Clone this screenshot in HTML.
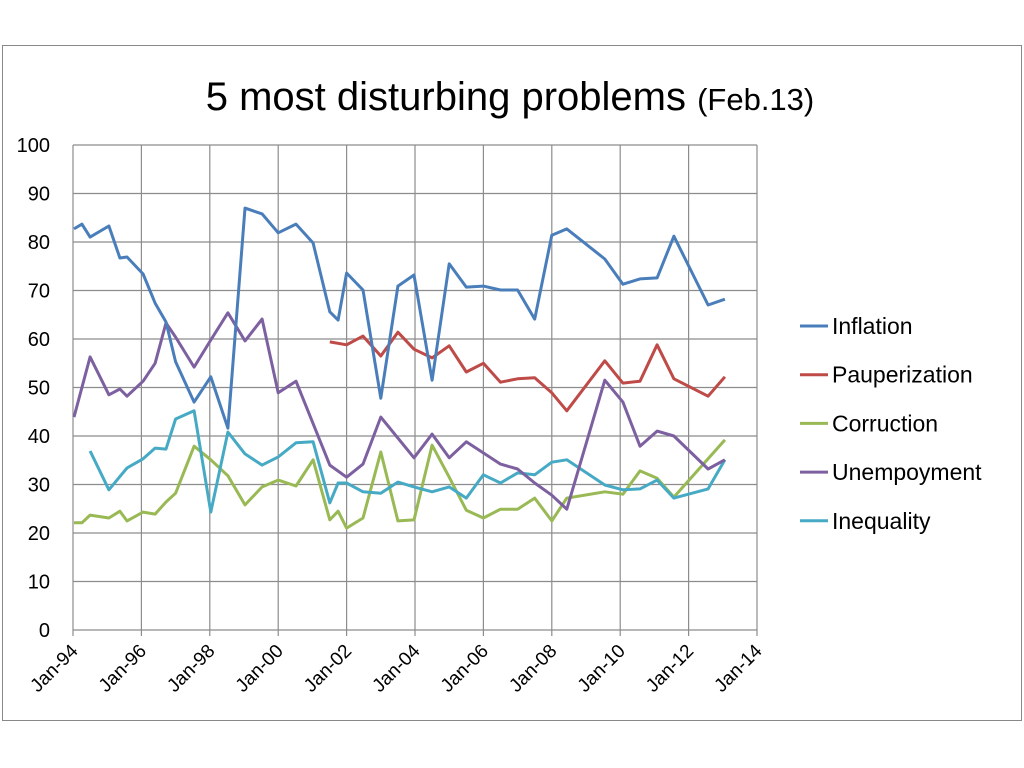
<!DOCTYPE html>
<html><head><meta charset="utf-8">
<style>
html,body{margin:0;padding:0;background:#fff;}
svg{display:block;font-family:"Liberation Sans",sans-serif;}
</style></head>
<body>
<svg id="chart" width="1024" height="768" viewBox="0 0 1024 768">
<rect x="2.5" y="45.5" width="1019" height="675" fill="#fff" stroke="#888" stroke-width="1"/>
<text x="510" y="110" text-anchor="middle" font-size="40" fill="#000">5 most disturbing problems <tspan font-size="31">(Feb.13)</tspan></text>
<g id="grid"></g><g id="axes"></g><g id="series"></g><g id="legend"></g>
</svg>
<script>
const yTicks=[0,10,20,30,40,50,60,70,80,90,100];
const xTickYears=[1994,1996,1998,2000,2002,2004,2006,2008,2010,2012,2014];
const xTickLabels=["Jan-94","Jan-96","Jan-98","Jan-00","Jan-02","Jan-04","Jan-06","Jan-08","Jan-10","Jan-12","Jan-14"];
const seriesNames=["Inflation","Pauperization","Corruction","Unempoyment","Inequality"];
const seriesColors=["#4a7ebb","#be4b48","#98b954","#7d60a0","#46aac5"];
const inflYears=[1994.03,1994.26,1994.5,1995.05,1995.37,1995.58,1996.05,1996.4,1996.72,1997.0,1997.54,1998.03,1998.53,1999.03,1999.53,2000.0,2000.52,2001.02,2001.51,2001.75,2002.0,2002.48,2003.0,2003.5,2003.97,2004.5,2005.0,2005.5,2006.0,2006.5,2007.0,2007.5,2008.0,2008.44,2009.55,2010.08,2010.58,2011.08,2011.57,2012.57,2013.06];
const inflValues=[82.7,83.7,81.0,83.3,76.7,76.9,73.4,67.4,63.5,55.3,47.0,52.2,41.6,87.0,85.8,81.9,83.7,79.8,65.6,63.9,73.6,70.1,47.8,70.9,73.2,51.5,75.5,70.7,70.9,70.1,70.1,64.1,81.4,82.7,76.5,71.3,72.4,72.6,81.2,67.0,68.2];
const paupYears=[2001.51,2002.0,2002.48,2003.0,2003.5,2003.97,2004.5,2005.0,2005.5,2006.0,2006.5,2007.0,2007.5,2008.0,2008.44,2009.55,2010.08,2010.58,2011.08,2011.57,2012.57,2013.06];
const paupValues=[59.4,58.8,60.6,56.5,61.4,57.9,56.1,58.6,53.2,55.0,51.1,51.8,52.0,48.9,45.2,55.5,50.9,51.3,58.8,51.8,48.2,52.2];
const corrYears=[1994.03,1994.26,1994.5,1995.05,1995.37,1995.58,1996.05,1996.4,1996.72,1997.0,1997.54,1998.03,1998.53,1999.03,1999.53,2000.0,2000.52,2001.02,2001.51,2001.75,2002.0,2002.48,2003.0,2003.5,2003.97,2004.5,2005.0,2005.5,2006.0,2006.5,2007.0,2007.5,2008.0,2008.44,2009.55,2010.08,2010.58,2011.08,2011.57,2013.06];
const corrValues=[22.1,22.1,23.7,23.1,24.5,22.5,24.3,23.9,26.4,28.2,37.9,35.1,31.8,25.8,29.5,30.9,29.7,35.1,22.7,24.5,21.0,23.1,36.7,22.5,22.7,38.1,31.5,24.7,23.1,24.9,24.9,27.2,22.5,27.2,28.5,28.0,32.8,31.3,27.4,39.2];
const unemYears=[1994.03,1994.5,1995.05,1995.37,1995.58,1996.05,1996.4,1996.72,1997.0,1997.54,1998.03,1998.53,1999.03,1999.53,2000.0,2000.52,2001.51,2002.0,2002.48,2003.0,2003.97,2004.5,2005.0,2005.5,2006.5,2007.0,2007.5,2008.0,2008.44,2009.55,2010.08,2010.58,2011.08,2011.57,2012.57,2013.06];
const unemValues=[43.9,56.3,48.5,49.7,48.2,51.3,55.0,63.3,60.4,54.2,59.8,65.4,59.6,64.1,48.9,51.3,34.0,31.5,34.2,43.9,35.5,40.4,35.5,38.8,34.2,33.2,30.3,27.8,24.9,51.5,47.0,37.9,41.0,40.0,33.2,35.1];
const ineqYears=[1994.5,1995.05,1995.58,1996.05,1996.4,1996.72,1997.0,1997.54,1998.03,1998.53,1999.03,1999.53,2000.0,2000.52,2001.02,2001.51,2001.75,2002.0,2002.48,2003.0,2003.5,2003.97,2004.5,2005.0,2005.5,2006.0,2006.5,2007.0,2007.5,2008.0,2008.44,2009.55,2010.08,2010.58,2011.08,2011.57,2012.57,2013.06];
const ineqValues=[36.9,28.9,33.4,35.3,37.5,37.3,43.5,45.2,24.3,40.8,36.3,34.0,35.7,38.6,38.8,26.2,30.3,30.3,28.5,28.2,30.5,29.5,28.5,29.5,27.2,32.0,30.3,32.4,32.0,34.6,35.1,29.9,28.9,29.1,30.9,27.2,29.1,35.1];

const NS="http://www.w3.org/2000/svg";
const X0=73,X1=757,Y0=630,Y1=145;
const xs=y=>X0+(y-1994)/20*(X1-X0);
const ys=v=>Y0-v/100*(Y0-Y1);
function mk(tag,attrs,parent){const e=document.createElementNS(NS,tag);for(const k in attrs)e.setAttribute(k,attrs[k]);parent.appendChild(e);return e;}
const grid=document.getElementById('grid'),axes=document.getElementById('axes'),ser=document.getElementById('series'),leg=document.getElementById('legend');
yTicks.forEach(t=>{
  const l=mk('line',{x1:X0,x2:X1,y1:ys(t),y2:ys(t),stroke:'#8c8c8c','stroke-width':1.2},grid);
  
  
  const tx=mk('text',{x:50,y:ys(t)+7,'text-anchor':'end','font-size':20,fill:'#000'},axes);
  tx.textContent=t;
  
  
});
xTickYears.forEach((yr,i)=>{
  const l=mk('line',{x1:xs(yr),x2:xs(yr),y1:Y1,y2:Y0+6,stroke:'#8c8c8c','stroke-width':1.2},grid);
  
  
  const x=xs(yr),y=Y0+22;
  const tx=mk('text',{x:x+6,y:y,'text-anchor':'end','font-size':19,fill:'#000',transform:`rotate(-45 ${x+6} ${y})`},axes);
  tx.textContent=xTickLabels[i];
  
  
});
const data=[[inflYears,inflValues],[paupYears,paupValues],[corrYears,corrValues],[unemYears,unemValues],[ineqYears,ineqValues]];
const order=[2,4,3,1,0];
order.forEach(i=>{
  const [yrs,vals]=data[i];
  const pts=yrs.map((y,j)=>xs(y).toFixed(1)+','+ys(vals[j]).toFixed(1)).join(' ');
  const p=mk('polyline',{points:pts,fill:'none',stroke:seriesColors[i],'stroke-width':3,'stroke-linejoin':'round'},ser);
  
  
});
seriesNames.forEach((n,i)=>{
  const y=326+i*48.7;
  const g=mk('g',{},leg);
  
  
  mk('line',{x1:800,x2:828,y1:y,y2:y,stroke:seriesColors[i],'stroke-width':3},g);
  const t=mk('text',{x:832,y:y+8,'font-size':23,fill:'#000'},g);
  t.textContent=n;
});
</script>
</body></html>
